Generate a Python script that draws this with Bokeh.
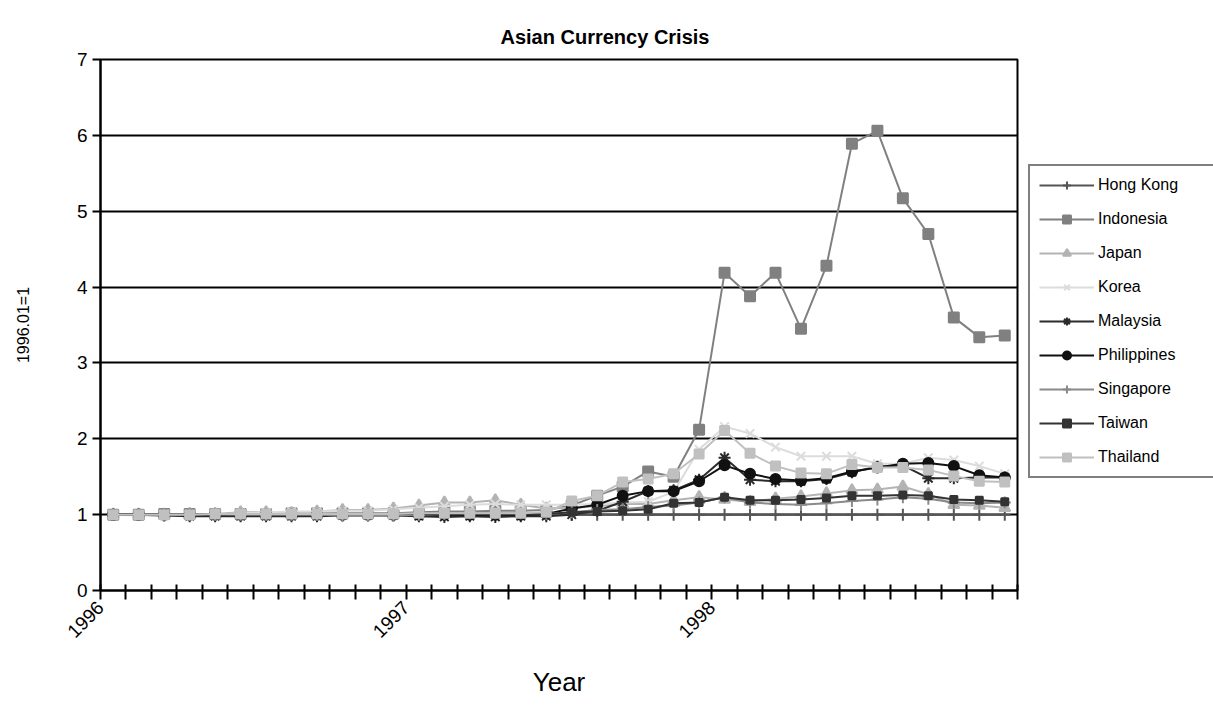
import math
from bokeh.plotting import figure
from bokeh.layouts import row
from bokeh.models import Legend, LegendItem, FixedTicker, ColumnDataSource
from bokeh.embed import file_html
from bokeh.resources import INLINE

# ---- data (1996.01 = 1), monthly 1996.01 .. 1998.12 ----
months = [f"{y}.{m:02d}" for y in (1996, 1997, 1998) for m in range(1, 13)]
year_labels = ["1996", "1997", "1998"]

hong_kong = [1.00] * 36
indonesia = [1.00, 1.00, 1.01, 1.01, 1.01, 1.01, 1.01, 1.02, 1.02, 1.02, 1.02, 1.02,
             1.03, 1.04, 1.04, 1.05, 1.05, 1.06, 1.12, 1.25, 1.37, 1.57, 1.50, 2.12,
             4.19, 3.88, 4.19, 3.45, 4.28, 5.89, 6.06, 5.17, 4.70, 3.60, 3.34, 3.36]
japan = [1.00, 1.00, 1.00, 1.01, 1.01, 1.03, 1.03, 1.02, 1.04, 1.06, 1.06, 1.08,
         1.12, 1.16, 1.16, 1.19, 1.13, 1.08, 1.09, 1.11, 1.14, 1.14, 1.19, 1.23,
         1.20, 1.17, 1.21, 1.24, 1.28, 1.32, 1.33, 1.37, 1.27, 1.13, 1.12, 1.09]
korea = [1.00, 0.99, 0.99, 0.99, 1.00, 1.02, 1.03, 1.04, 1.04, 1.05, 1.05, 1.07,
         1.09, 1.11, 1.13, 1.14, 1.13, 1.13, 1.13, 1.14, 1.16, 1.17, 1.30, 1.86,
         2.16, 2.07, 1.89, 1.77, 1.77, 1.77, 1.67, 1.67, 1.75, 1.72, 1.64, 1.54]
malaysia = [1.00, 1.00, 0.99, 0.98, 0.98, 0.98, 0.98, 0.98, 0.98, 0.99, 0.99, 0.99,
            0.98, 0.97, 0.98, 0.97, 0.98, 0.98, 1.00, 1.05, 1.17, 1.31, 1.32, 1.46,
            1.75, 1.46, 1.44, 1.44, 1.47, 1.56, 1.63, 1.65, 1.48, 1.48, 1.49, 1.49]
philippines = [1.00, 1.00, 1.00, 1.00, 1.00, 1.00, 1.00, 1.00, 1.00, 1.00, 1.00, 1.00,
               1.00, 1.00, 1.00, 1.00, 1.00, 1.01, 1.08, 1.13, 1.25, 1.31, 1.31, 1.44,
               1.65, 1.54, 1.47, 1.45, 1.48, 1.57, 1.62, 1.67, 1.68, 1.64, 1.52, 1.49]
singapore = [1.00, 1.00, 1.00, 1.00, 1.00, 1.00, 1.00, 1.00, 1.00, 0.99, 0.99, 0.99,
             1.00, 1.01, 1.02, 1.02, 1.02, 1.01, 1.03, 1.06, 1.07, 1.10, 1.12, 1.16,
             1.23, 1.16, 1.14, 1.13, 1.15, 1.18, 1.20, 1.23, 1.21, 1.16, 1.15, 1.16]
taiwan = [1.00, 1.00, 1.00, 1.00, 1.00, 1.01, 1.01, 1.01, 1.01, 1.01, 1.01, 1.01,
          1.01, 1.01, 1.01, 1.01, 1.01, 1.01, 1.03, 1.04, 1.05, 1.07, 1.15, 1.16,
          1.23, 1.19, 1.19, 1.20, 1.22, 1.25, 1.25, 1.26, 1.25, 1.20, 1.19, 1.17]
thailand = [1.00, 1.00, 1.00, 1.00, 1.01, 1.01, 1.01, 1.01, 1.01, 1.01, 1.01, 1.01,
            1.02, 1.02, 1.02, 1.02, 1.02, 1.03, 1.18, 1.25, 1.43, 1.47, 1.54, 1.80,
            2.11, 1.81, 1.64, 1.55, 1.54, 1.66, 1.62, 1.62, 1.59, 1.51, 1.44, 1.43]

series = [
    ("Hong Kong", hong_kong, "#555555", "cross", 12),
    ("Indonesia", indonesia, "#808080", "square", 10),
    ("Japan", japan, "#b3b3b3", "triangle", 11),
    ("Korea", korea, "#dcdcdc", "x", 12),
    ("Malaysia", malaysia, "#2b2b2b", "asterisk", 12),
    ("Philippines", philippines, "#111111", "circle", 10),
    ("Singapore", singapore, "#8a8a8a", "cross", 12),
    ("Taiwan", taiwan, "#333333", "square", 7),
    ("Thailand", thailand, "#c0c0c0", "square", 9),
]

FONT = "Liberation Sans"

p = figure(width=1027, height=713, x_range=(0, 36), y_range=(0, 7),
           output_backend="svg", toolbar_location=None,
           min_border_left=100, min_border_right=10,
           min_border_top=59, min_border_bottom=123,
           background_fill_color="white", border_fill_color="white")

p.title.text = "Asian Currency Crisis"
p.title.text_font = FONT
p.title.text_font_size = "20px"
p.title.text_font_style = "bold"
p.title.align = "left"
p.title.offset = 400
p.title.standoff = 24
p.title.text_color = "black"

# legend lives in a narrow companion figure to the right of the plot
lf = figure(width=186, height=713, x_range=(0, 1), y_range=(0, 1),
            output_backend="svg", toolbar_location=None,
            min_border_left=0, min_border_right=0, min_border_top=59,
            min_border_bottom=123, background_fill_color="white",
            border_fill_color="white")
lf.axis.visible = False
lf.grid.visible = False
lf.outline_line_color = None

xs = [i + 0.5 for i in range(len(months))]
items = []
for name, vals, color, marker, size in series:
    src = ColumnDataSource(dict(x=xs, y=vals))
    p.line("x", "y", source=src, line_color=color, line_width=2)
    p.scatter("x", "y", source=src, marker=marker, size=size,
              line_color=color, fill_color=color, line_width=2)
    # proxy renderers, kept outside the companion figure's ranges
    proxy = ColumnDataSource(dict(x=[-5, -4], y=[-5, -5]))
    l1 = lf.line("x", "y", source=proxy, line_color=color, line_width=2)
    l2 = lf.scatter("x", "y", source=proxy, marker=marker, size=size,
                    line_color=color, fill_color=color, line_width=2)
    items.append(LegendItem(label=name, renderers=[l1, l2]))

legend = Legend(items=items, location=(1, 112))
legend.label_text_font = FONT
legend.label_text_font_size = "16px"
legend.label_text_color = "black"
legend.label_height = 20
legend.glyph_height = 20
legend.glyph_width = 55
legend.label_standoff = 4
legend.label_width = 106
legend.spacing = 14
legend.padding = 9
legend.margin = 0
legend.border_line_color = "black"
legend.border_line_width = 2
legend.background_fill_color = "white"
lf.add_layout(legend)

# axes
xa = p.xaxis[0]
xa.ticker = FixedTicker(ticks=list(range(37)))
overrides = {i: "" for i in range(37)}
for k, lab in zip((0, 12, 24), year_labels):
    overrides[k] = lab
xa.major_label_overrides = overrides
xa.major_label_orientation = math.pi / 4
xa.major_label_text_font = FONT
xa.major_label_text_font_size = "19px"
xa.major_label_text_color = "black"
xa.major_tick_in = 6
xa.major_tick_out = 9
xa.minor_tick_line_color = None
xa.axis_line_width = 2
xa.axis_line_color = "black"
xa.major_tick_line_width = 2
xa.major_tick_line_color = "black"
xa.axis_label = "Year"
xa.axis_label_text_font = FONT
xa.axis_label_text_font_size = "26px"
xa.axis_label_text_font_style = "normal"
xa.axis_label_text_color = "black"
xa.axis_label_standoff = 20

ya = p.yaxis[0]
ya.ticker = FixedTicker(ticks=list(range(8)))
ya.major_label_text_font = FONT
ya.major_label_text_font_size = "19px"
ya.major_label_text_color = "black"
ya.major_tick_in = 0
ya.major_tick_out = 8
ya.minor_tick_line_color = None
ya.axis_line_width = 2
ya.axis_line_color = "black"
ya.major_tick_line_width = 2
ya.major_tick_line_color = "black"
ya.axis_label = "1996.01=1"
ya.axis_label_text_font = FONT
ya.axis_label_text_font_size = "16px"
ya.axis_label_text_font_style = "normal"
ya.axis_label_text_color = "black"
ya.axis_label_standoff = 42

p.xgrid.visible = False
p.ygrid.ticker = FixedTicker(ticks=list(range(1, 7)))
p.ygrid.grid_line_color = "black"
p.ygrid.grid_line_width = 2
p.outline_line_color = "black"
p.outline_line_width = 2

layout = row(p, lf)
open("out.html", "w").write(file_html(layout, INLINE))
